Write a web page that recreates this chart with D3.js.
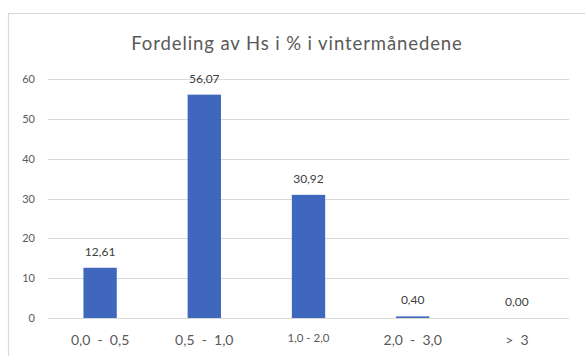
<!DOCTYPE html>
<html>
<head>
<meta charset="utf-8">
<script src="https://cdn.jsdelivr.net/npm/d3@7"></script>
<style>
  html, body { margin: 0; padding: 0; background: #fff; }
  svg { display: block; }
</style>
</head>
<body>
<svg id="chart" width="585" height="356"></svg>
<script>
// Wave height (Hs) classes and share of winter observations, in %
const categories = ["0,0  -  0,5", "0,5  -  1,0", "1,0 - 2,0", "2,0  -  3,0", ">  3"];
const values = [12.61, 56.07, 30.92, 0.40, 0.00];
const valueLabels = ["12,61", "56,07", "30,92", "0,40", "0,00"];
const yTicks = [0, 10, 20, 30, 40, 50, 60];
const title = "Fordeling av Hs i % i vintermånedene";

const W = 585, H = 356;
const svg = d3.select("#chart");
const font = "Lato, 'Open Sans', sans-serif";

// chart frame (right and bottom edges run off the page)
svg.append("rect")
  .attr("x", 8.5).attr("y", 13.5)
  .attr("width", W + 10).attr("height", H + 10)
  .attr("fill", "#fff").attr("stroke", "#d9d9d9").attr("stroke-width", 1.2);

const plot = { left: 48, right: 569, top: 79, bottom: 318 };

const x = d3.scaleBand()
  .domain(categories)
  .range([plot.left, plot.right])
  .paddingInner(0.68)
  .paddingOuter(0.34);

const y = d3.scaleLinear()
  .domain([0, 60])
  .range([plot.bottom, plot.top]);

// gridlines
svg.append("g")
  .selectAll("line")
  .data(yTicks)
  .join("line")
  .attr("x1", plot.left).attr("x2", plot.right)
  .attr("y1", d => Math.round(y(d)) + 0.5).attr("y2", d => Math.round(y(d)) + 0.5)
  .attr("stroke", "#d9d9d9").attr("stroke-width", 1);

// y axis labels
const yAxis = d3.axisLeft(y).tickValues(yTicks).tickSize(0).tickPadding(0);
svg.append("g")
  .attr("transform", `translate(${plot.left - 13},0)`)
  .call(yAxis)
  .call(g => g.select(".domain").remove())
  .call(g => g.selectAll("text")
    .attr("fill", "#595959")
    .style("font-family", font)
    .style("font-size", "11px"));

// bars
svg.append("g")
  .selectAll("rect")
  .data(values)
  .join("rect")
  .attr("x", (d, i) => x(categories[i]))
  .attr("width", x.bandwidth())
  .attr("y", d => y(d))
  .attr("height", d => y(0) - y(d))
  .attr("fill", "#3f67bd");

// value labels above bars
svg.append("g")
  .selectAll("text")
  .data(values)
  .join("text")
  .attr("x", (d, i) => x(categories[i]) + x.bandwidth() / 2)
  .attr("y", d => y(d) - 12)
  .attr("text-anchor", "middle")
  .attr("fill", "#404040")
  .style("font-family", font)
  .style("font-size", "12px")
  .text((d, i) => valueLabels[i]);

// category labels
const xAxis = d3.axisBottom(x).tickSize(0).tickPadding(0);
svg.append("g")
  .attr("transform", `translate(0,${plot.bottom})`)
  .call(xAxis)
  .call(g => g.select(".domain").remove())
  .call(g => g.selectAll("text")
    .attr("dy", null)
    .attr("y", (d, i) => i === 2 ? 24 : 27)
    .attr("fill", "#595959")
    .style("font-family", font)
    .style("font-size", (d, i) => i === 2 ? "11.5px" : "14px")
    .style("white-space", "pre"));

// title
svg.append("text")
  .attr("x", 297)
  .attr("y", 50)
  .attr("text-anchor", "middle")
  .attr("fill", "#595959")
  .style("font-family", font)
  .style("font-size", "18.5px")
  .style("letter-spacing", "0.9px")
  .text(title);
</script>
</body>
</html>
